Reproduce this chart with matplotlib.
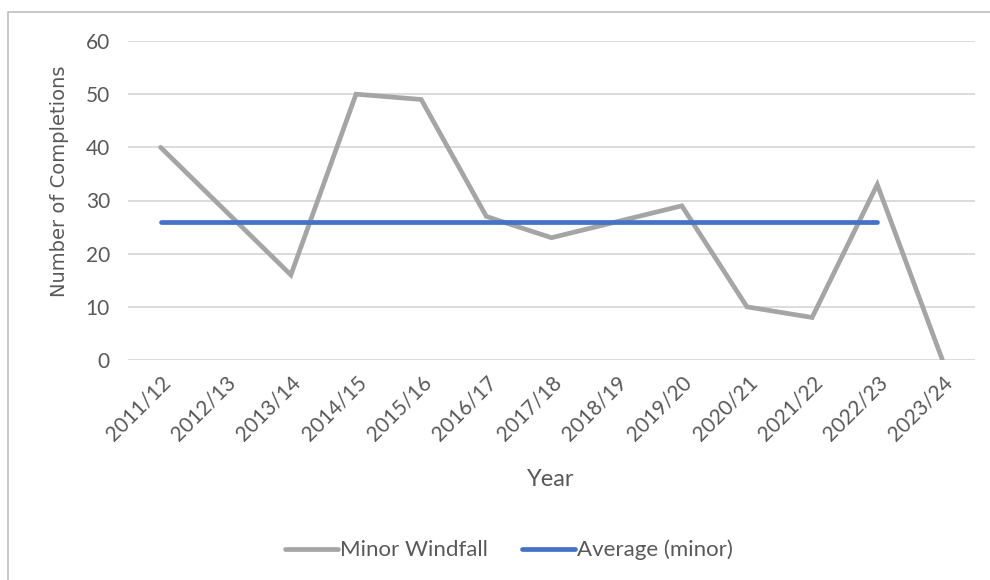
import matplotlib.pyplot as plt
from matplotlib.patches import Rectangle

years = ['2011/12', '2012/13', '2013/14', '2014/15', '2015/16', '2016/17', '2017/18',
         '2018/19', '2019/20', '2020/21', '2021/22', '2022/23', '2023/24']
minor_windfall = [40, 28, 16, 50, 49, 27, 23, 26, 29, 10, 8, 33, 0]
average_minor = [26] * 12   # drawn from 2011/12 to 2022/23 only
y_ticks = [0, 10, 20, 30, 40, 50, 60]

plt.rcParams['font.family'] = ['Lato', 'DejaVu Sans']
txt = '#595959'

fig = plt.figure(figsize=(9.9, 5.8), dpi=100)
ax = fig.add_axes([128/990, 1 - 360/580, (975 - 128)/990, (360 - 41)/580])

# outer chart frame (Excel style)
fig.patches.append(Rectangle((8/990, -0.05), 1.1, 1 - 12/580 + 0.05, transform=fig.transFigure,
                             fill=False, edgecolor='#BFBFBF', linewidth=1.2))

x = range(len(years))
ax.plot(x, minor_windfall, color='#A5A5A5', linewidth=3.4, solid_capstyle='round',
        solid_joinstyle='miter', label='Minor Windfall', zorder=3)
ax.plot(range(len(average_minor)), average_minor, color='#4472C4', linewidth=3.4,
        solid_capstyle='round', label='Average (minor)', zorder=3)

ax.set_xlim(-0.5, len(years) - 0.5)
ax.set_ylim(0, 60)
ax.set_yticks(y_ticks)
ax.set_xticks(list(x))
ax.set_xticklabels(years, rotation=45, ha='right', rotation_mode='anchor')
ax.yaxis.grid(True, color='#D9D9D9', linewidth=1.3)
ax.set_axisbelow(True)
for s in ax.spines.values():
    s.set_visible(False)
ax.tick_params(axis='both', length=0, colors=txt, labelsize=15)
ax.tick_params(axis='x', pad=9)
ax.tick_params(axis='y', pad=13)

ax.set_ylabel('Number of Completions', color=txt, fontsize=14, family='DejaVu Sans')
ax.yaxis.set_label_coords((69 - 128) / 847, (360 - 181) / 319)

fig.text(551/990, 1 - 480/580, 'Year', color=txt, fontsize=17, ha='center', va='center')

leg = fig.legend(loc='center', bbox_to_anchor=(509/990, 1 - 550/580), ncol=2, frameon=False,
                 fontsize=16, handlelength=2.4, handletextpad=0.1, columnspacing=1.5)
for t in leg.get_texts():
    t.set_color(txt)

plt.savefig('out.png', dpi=100)
